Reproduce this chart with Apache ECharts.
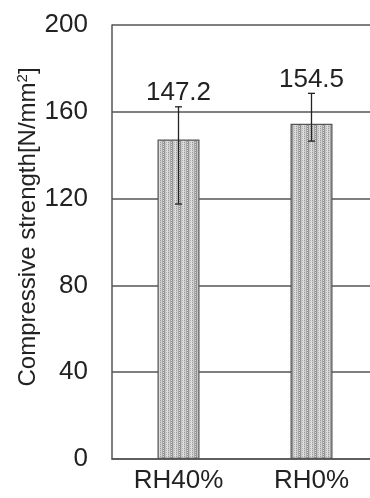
<!DOCTYPE html>
<html>
<head>
<meta charset="utf-8">
<script src="https://cdn.jsdelivr.net/npm/echarts@6/dist/echarts.min.js"></script>
<style>
  html, body { margin: 0; padding: 0; background: #fff; }
  #chart { width: 370px; height: 498px; }
</style>
</head>
<body>
<div id="chart"></div>
<script>
// Conditions and mean compressive strength
const categories = ['RH40%', 'RH0%'];
const strength = [147.2, 154.5];
// Error bar extent (low, high) for each condition
const errLow = [117.5, 146.5];
const errHigh = [162.3, 168.5];
// Value axis ticks
const yTicks = [0, 40, 80, 120, 160, 200];

// Textured grey fill for the bars: fine vertical stripes
function makeTexture() {
  const c = document.createElement('canvas');
  c.width = 8; c.height = 4;
  const g = c.getContext('2d');
  const cols = ['#9a9a9a', '#cfcfcf', '#a6a6a6', '#dadada', '#939393', '#c6c6c6', '#afafaf', '#dedede'];
  for (let x = 0; x < 8; x++) {
    for (let y = 0; y < 4; y++) {
      const k = (y % 2 === 1 && x % 3 === 0) ? (x + 1) % 8 : x;
      g.fillStyle = cols[k];
      g.fillRect(x, y, 1, 1);
    }
  }
  return c;
}

const chart = echarts.init(document.getElementById('chart'), null, { renderer: 'canvas' });
const font = 'Liberation Sans, Arial, sans-serif';

chart.setOption({
  animation: false,
  // the plot frame runs past the right edge of the canvas
  grid: { left: 112, top: 25, width: 266, height: 434, containLabel: false, outerBoundsMode: 'none' },
  xAxis: {
    type: 'category',
    data: categories,
    axisLine: { show: true, lineStyle: { color: '#555', width: 1.5 } },
    axisTick: { show: false },
    axisLabel: { color: '#222', fontSize: 26, fontFamily: font, margin: 9 }
  },
  yAxis: {
    type: 'value',
    min: yTicks[0],
    max: yTicks[yTicks.length - 1],
    interval: yTicks[1] - yTicks[0],
    axisLine: { show: true, lineStyle: { color: '#555', width: 1.5 } },
    axisTick: { show: false },
    splitLine: { show: true, lineStyle: { color: '#555', width: 1.5 } },
    axisLabel: { color: '#222', fontSize: 26, fontFamily: font, margin: 24 }
  },
  graphic: [{
    type: 'text',
    x: 28,
    y: 227,
    rotation: Math.PI / 2,
    style: {
      text: '{a|Compressive strength[N/mm}{s|2}{a|]}',
      align: 'center',
      verticalAlign: 'middle',
      rich: {
        a: { fontSize: 24, fontFamily: font, fill: '#222' },
        s: { fontSize: 15, fontFamily: font, fill: '#222', verticalAlign: 'top', padding: [0, 0, 11, 0] }
      }
    }
  }],
  series: [
    {
      type: 'bar',
      data: strength,
      barWidth: 42,
      itemStyle: {
        color: { image: makeTexture(), repeat: 'repeat' },
        borderColor: '#555',
        borderWidth: 1.2
      },
      z: 2
    },
    {
      type: 'custom',
      z: 5,
      data: categories.map((c, i) => [i, errLow[i], errHigh[i], strength[i]]),
      renderItem: function (params, api) {
        const x = api.coord([api.value(0), 0])[0];
        const lo = api.coord([api.value(0), api.value(1)])[1];
        const hi = api.coord([api.value(0), api.value(2)])[1];
        const cap = 3.5;
        const st = { stroke: '#222', lineWidth: 1.3 };
        return {
          type: 'group',
          children: [
            { type: 'line', shape: { x1: x, y1: lo, x2: x, y2: hi }, style: st },
            { type: 'line', shape: { x1: x - cap, y1: lo, x2: x + cap, y2: lo }, style: st },
            { type: 'line', shape: { x1: x - cap, y1: hi, x2: x + cap, y2: hi }, style: st },
            {
              type: 'text',
              x: x,
              y: hi - 1,
              style: {
                text: api.value(3).toFixed(1),
                align: 'center',
                verticalAlign: 'bottom',
                fontSize: 26,
                fontFamily: font,
                fill: '#222'
              }
            }
          ]
        };
      }
    }
  ]
});
</script>
</body>
</html>
